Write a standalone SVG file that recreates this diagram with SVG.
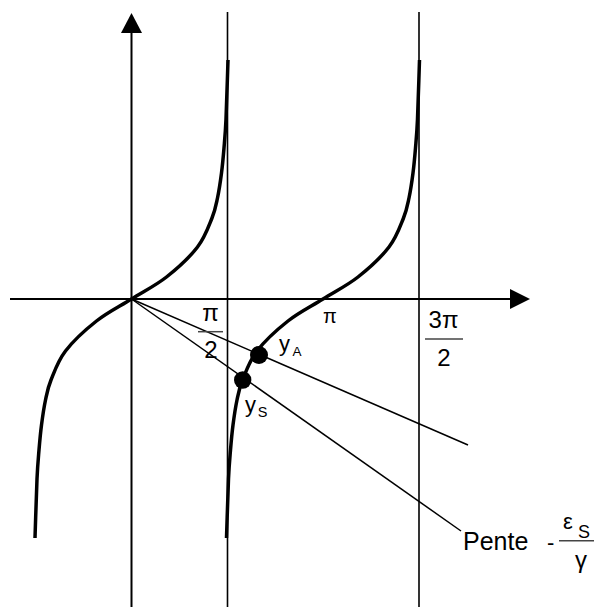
<svg xmlns="http://www.w3.org/2000/svg" width="594" height="607" viewBox="0 0 594 607">
<defs>
<style>
.ax{stroke:#000;stroke-width:2;fill:none}
.vl{stroke:#000;stroke-width:1.6;fill:none}
.sl{stroke:#000;stroke-width:1.5;fill:none}
.cv{stroke:#000;stroke-width:3.5;fill:none;stroke-linecap:butt}
.bar{stroke:#444;stroke-width:1.5}
text{font-family:"Liberation Sans",Arial,sans-serif;fill:#000}
.m{font-size:24px}
</style>
<path id="branch" d="M -96.5,239 C -95.83,219.33 -95.17,194.67 -94.5,180 C -93.83,165.33 -93.25,160 -92.5,151 C -91.75,142 -91.08,134.33 -90,126 C -88.92,117.67 -87.58,108.5 -86,101 C -84.42,93.5 -83.83,89.17 -80.5,81 C -77.17,72.83 -73.58,61.83 -66,52 C -58.42,42.17 -46,30.67 -35,22 C -24,13.33 -11.67,7.33 0,0 C 11.67,-7.33 24,-13.33 35,-22 C 46,-30.67 58.42,-42.17 66,-52 C 73.58,-61.83 77.17,-72.83 80.5,-81 C 83.83,-89.17 84.42,-93.5 86,-101 C 87.58,-108.5 88.92,-117.67 90,-126 C 91.08,-134.33 91.75,-142 92.5,-151 C 93.25,-160 93.83,-165.33 94.5,-180 C 95.17,-194.67 95.83,-219.33 96.5,-239"/>
</defs>
<rect width="594" height="607" fill="#fff"/>
<g id="axes">
<line class="ax" x1="10" y1="299" x2="512" y2="299"/>
<polygon points="510,289 530,299 510,309" fill="#000"/>
<line class="ax" x1="131.5" y1="31" x2="131.5" y2="607"/>
<polygon points="121,33 131.5,13 142,33" fill="#000"/>
</g>
<g id="asymptotes">
<line class="vl" x1="227.5" y1="12" x2="227.5" y2="607"/>
<line class="vl" x1="419" y1="12" x2="419" y2="607"/>
</g>
<g id="curves">
<use href="#branch" class="cv" transform="translate(131.5,299)"/>
<use href="#branch" class="cv" transform="translate(323,299)"/>
</g>
<g id="connectors">
<line class="sl" x1="131.5" y1="299" x2="468" y2="445"/>
<line class="sl" x1="131.5" y1="299" x2="461" y2="531"/>
</g>
<g id="yA">
<circle cx="259" cy="355" r="9" fill="#000"/>
<text x="279" y="350.5" font-size="22">y</text>
<text x="292.5" y="356" font-size="13.5">A</text>
</g>
<g id="yS">
<circle cx="242.7" cy="380" r="8.7" fill="#000"/>
<text x="245" y="411.7" font-size="22">y</text>
<text x="257.8" y="417" font-size="14.5">S</text>
</g>
<g id="labels">
<text class="m" x="210.5" y="321" text-anchor="middle">π</text>
<line class="bar" x1="198" y1="331.7" x2="223" y2="331.7"/>
<text class="m" x="211" y="358" text-anchor="middle">2</text>
<text x="330" y="323" font-size="20" text-anchor="middle">π</text>
<text class="m" x="443.5" y="328" text-anchor="middle">3π</text>
<line class="bar" x1="425" y1="339" x2="463" y2="339"/>
<text class="m" x="444" y="366" text-anchor="middle">2</text>
</g>
<g id="pente">
<text x="463" y="550" font-size="25">Pente</text>
<text x="547" y="550" font-size="22">-</text>
<line class="bar" x1="559" y1="540.7" x2="594" y2="540.7"/>
<text x="563" y="529" font-size="22">ε</text>
<text x="578" y="538" font-size="18">S</text>
<text class="m" x="581" y="567.5" text-anchor="middle">γ</text>
</g>
</svg>
